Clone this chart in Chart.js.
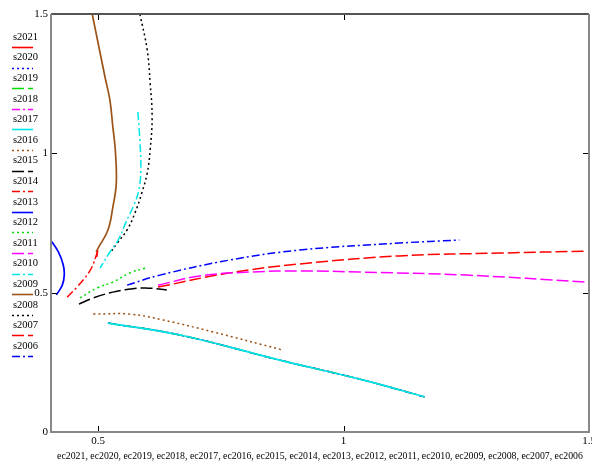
<!DOCTYPE html>
<html>
<head>
<meta charset="utf-8">
<script src="https://cdn.jsdelivr.net/npm/chart.js@4/dist/chart.umd.min.js"></script>
<style>
html, body { margin: 0; padding: 0; background: #fff; }
#wrap { width: 592px; height: 462px; }
</style>
</head>
<body>
<div id="wrap"><canvas id="chart"></canvas></div>
<script>
// x values (ecYYYY) and y values (sYYYY)
const years = ['2021', '2020', '2019', '2018', '2017', '2016', '2015', '2014',
               '2013', '2012', '2011', '2010', '2009', '2008', '2007', '2006'];

const ec2021 = [0.497, 0.499];
const s2021  = [0.628, 0.652];
const ec2020 = [0.520, 0.667, 0.870, 1.039, 1.165];
const s2020  = [0.391, 0.348, 0.258, 0.187, 0.126];
const ec2019 = [0.520, 0.667, 0.870, 1.039, 1.165];
const s2019  = [0.391, 0.348, 0.258, 0.187, 0.126];
const ec2018 = [0.520, 0.667, 0.870, 1.039, 1.165];
const s2018  = [0.391, 0.348, 0.258, 0.187, 0.126];
const ec2017 = [0.520, 0.667, 0.870, 1.039, 1.165];
const s2017  = [0.391, 0.348, 0.258, 0.187, 0.126];
const ec2016 = [0.490, 0.565, 0.632, 0.734, 0.876];
const s2016  = [0.423, 0.423, 0.402, 0.359, 0.294];
const ec2015 = [0.461, 0.490, 0.530, 0.565, 0.596, 0.640];
const s2015  = [0.459, 0.481, 0.502, 0.513, 0.517, 0.510];
const ec2014 = [0.437, 0.457, 0.484, 0.498];
const s2014  = [0.484, 0.520, 0.581, 0.642];
const ec2013 = [0.402, 0.419, 0.429, 0.431, 0.427, 0.415];
const s2013  = [0.692, 0.646, 0.599, 0.563, 0.527, 0.492];
const ec2012 = [0.463, 0.498, 0.530, 0.565, 0.596];
const s2012  = [0.481, 0.517, 0.538, 0.571, 0.588];
const ec2011 = [0.622, 0.707, 0.809, 0.911, 1.033, 1.250, 1.494];
const s2011  = [0.527, 0.560, 0.574, 0.578, 0.574, 0.563, 0.538];
const ec2010 = [0.581, 0.585, 0.587, 0.583, 0.573, 0.557, 0.541, 0.524, 0.504];
const s2010  = [1.148, 1.048, 0.940, 0.868, 0.815, 0.754, 0.689, 0.646, 0.588];
const ec2009 = [0.488, 0.514, 0.524, 0.530, 0.535, 0.537, 0.530, 0.520, 0.500, 0.496];
const s2009  = [1.500, 1.274, 1.191, 1.094, 1.012, 0.893, 0.807, 0.725, 0.660, 0.646];
const ec2008 = [0.585, 0.600, 0.606, 0.610, 0.606, 0.600, 0.589, 0.575, 0.559, 0.539, 0.524];
const s2008  = [1.500, 1.371, 1.252, 1.130, 1.012, 0.929, 0.858, 0.786, 0.725, 0.678, 0.642];
const ec2007 = [0.622, 0.768, 0.911, 1.114, 1.317, 1.494];
const s2007  = [0.520, 0.571, 0.603, 0.632, 0.642, 0.649];
const ec2006 = [0.559, 0.626, 0.768, 0.911, 1.114, 1.236];
const s2006  = [0.527, 0.563, 0.617, 0.653, 0.678, 0.689];

const xSeries = [ec2021, ec2020, ec2019, ec2018, ec2017, ec2016, ec2015, ec2014,
                 ec2013, ec2012, ec2011, ec2010, ec2009, ec2008, ec2007, ec2006];
const ySeries = [s2021, s2020, s2019, s2018, s2017, s2016, s2015, s2014,
                 s2013, s2012, s2011, s2010, s2009, s2008, s2007, s2006];

const xTicks = [0.5, 1, 1.5];
const yTicks = [0, 0.5, 1, 1.5];

// trace styles cycle like the original plot
const palette = ['#ff0000', '#0000ff', '#00dd00', '#ff00ff', '#00e5e5', '#9c5318', '#000000'];
const dashes = [[], [2, 3], [12, 4], [8, 3, 2, 3]];
const serif = 'Liberation Serif';

const datasets = years.map((yr, i) => ({
    label: 's' + yr,
    data: xSeries[i].map((x, j) => ({ x: x, y: ySeries[i][j] })),
    showLine: true,
    borderColor: palette[i % 7],
    backgroundColor: palette[i % 7],
    borderDash: dashes[i % 4],
    borderWidth: i % 4 === 0 ? 1.7 : 1.5,
    pointRadius: 0,
    tension: 0.4,
    order: yr === '2017' ? -1 : 0
}));

const framePlugin = {
    id: 'frame',
    afterDatasetsDraw(chart) {
        const c = chart.ctx;
        const a = chart.chartArea;
        const xs = chart.scales.x, ys = chart.scales.y;
        c.save();
        c.strokeStyle = '#000';
        c.lineWidth = 1;
        xTicks.forEach(v => {
            const px = Math.round(xs.getPixelForValue(v)) + 0.5;
            c.beginPath();
            c.moveTo(px, a.bottom); c.lineTo(px, a.bottom - 6);
            c.moveTo(px, a.top); c.lineTo(px, a.top + 6);
            c.stroke();
        });
        yTicks.forEach(v => {
            const py = Math.round(ys.getPixelForValue(v)) + 0.5;
            c.beginPath();
            c.moveTo(a.left, py); c.lineTo(a.left + 6, py);
            c.moveTo(a.right, py); c.lineTo(a.right - 6, py);
            c.stroke();
        });
        c.lineWidth = 2;
        c.strokeStyle = '#555';
        c.beginPath();
        c.moveTo(a.left, a.top); c.lineTo(a.right, a.top);
        c.stroke();
        c.strokeStyle = '#888';
        c.beginPath();
        c.moveTo(a.right, a.top); c.lineTo(a.right, a.bottom);
        c.lineTo(a.left, a.bottom); c.lineTo(a.left, a.top);
        c.stroke();
        c.restore();
    },
    afterDraw(chart) {
        // legend: name above a short sample of the trace
        const c = chart.ctx;
        c.save();
        c.font = '10.5px "' + serif + '"';
        c.textBaseline = 'middle';
        c.fillStyle = '#000';
        chart.data.datasets.forEach((ds, i) => {
            const y = 37 + i * 20.6;
            c.fillText(ds.label, 13, y);
            c.strokeStyle = ds.borderColor;
            c.lineWidth = 1.6;
            c.setLineDash(ds.borderDash);
            c.beginPath();
            c.moveTo(12, Math.round(y + 10) + 0.5);
            c.lineTo(33, Math.round(y + 10) + 0.5);
            c.stroke();
        });
        c.restore();
    }
};

new Chart(document.getElementById('chart'), {
    type: 'scatter',
    data: { datasets: datasets },
    options: {
        responsive: true,
        maintainAspectRatio: false,
        animation: false,
        layout: { padding: { left: 0, top: 14, right: 3, bottom: 0 } },
        plugins: {
            legend: { display: false },
            tooltip: { enabled: false }
        },
        scales: {
            x: {
                type: 'linear',
                min: 0.404,
                max: 1.5,
                afterBuildTicks: s => { s.ticks = xTicks.map(v => ({ value: v })); },
                afterFit: s => { s.height = 30; s.paddingLeft = 0; s.paddingRight = 0; },
                grid: { display: false, drawTicks: false },
                border: { display: false },
                ticks: {
                    padding: 3,
                    color: '#000',
                    font: { family: serif, size: 11 },
                    callback: v => String(v)
                },
                title: {
                    display: true,
                    text: years.map(y => 'ec' + y).join(', '),
                    color: '#000',
                    font: { family: serif, size: 9.8 },
                    padding: { top: 2, bottom: 0 }
                }
            },
            y: {
                type: 'linear',
                min: 0,
                max: 1.5,
                afterBuildTicks: s => { s.ticks = yTicks.map(v => ({ value: v })); },
                afterFit: s => { s.width = 51; s.paddingTop = 0; s.paddingBottom = 0; },
                grid: { display: false, drawTicks: false },
                border: { display: false },
                ticks: {
                    padding: 3,
                    color: '#000',
                    font: { family: serif, size: 11 },
                    callback: v => String(v)
                }
            }
        }
    },
    plugins: [framePlugin]
});
</script>
</body>
</html>
